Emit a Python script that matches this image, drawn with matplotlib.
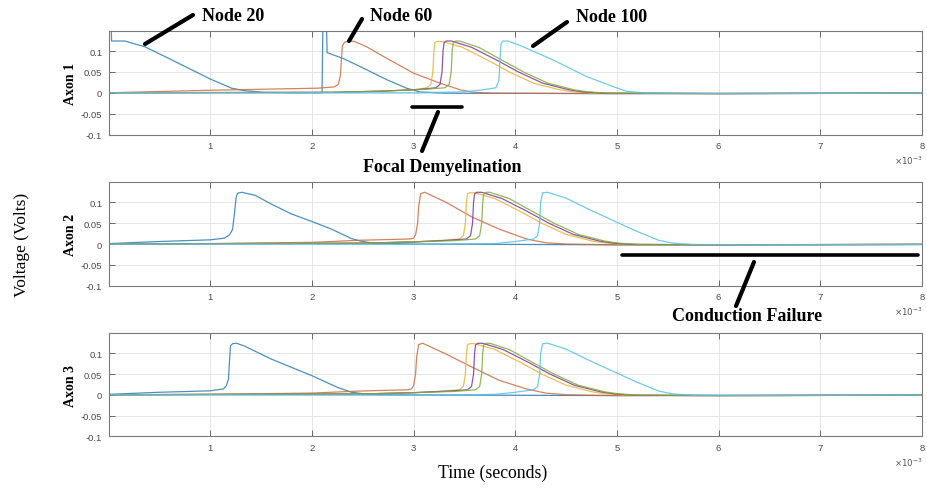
import matplotlib
matplotlib.use("Agg")
import matplotlib.pyplot as plt
from matplotlib.lines import Line2D

# ---------------- data (time in ms, voltage in V) ----------------
x_ticks = [1, 2, 3, 4, 5, 6, 7, 8]
y_ticks = [-0.1, -0.05, 0, 0.05, 0.1]
y_tick_labels = ["-0.1", "-0.05", "0", "0.05", "0.1"]
axon_labels = ["Axon 1", "Axon 2", "Axon 3"]

# Axon 1
a1_blue_t = [0, 0.008, 0.025, 0.03, 0.16, 0.36, 0.62, 1.0, 1.21, 1.34, 1.53, 1.8, 2.10, 2.11, 2.14, 2.15,
             2.31, 2.54, 2.74, 2.93, 3.06, 3.3, 5.0, 8.0]
a1_blue_v = [0, 0.2, 0.2, 0.124, 0.124, 0.110, 0.079, 0.033, 0.011, 0.005, 0.001, 0.0, 0.0, 0.2, 0.2, 0.096,
             0.082, 0.055, 0.031, 0.011, 0.002, -0.001, -0.002, -0.001]
a1_orange_t = [0, 1.0, 2.06, 2.22, 2.26, 2.28, 2.29, 2.30, 2.32, 2.36, 2.42, 2.54, 2.74, 3.0, 3.26, 3.46, 3.59,
               3.8, 5.0, 8.0]
a1_orange_v = [0, 0.006, 0.011, 0.014, 0.02, 0.04, 0.08, 0.112, 0.121, 0.124, 0.123, 0.110, 0.082, 0.047, 0.023,
               0.007, 0.001, -0.001, -0.002, -0.001]
a1_yellow_t = [0, 2.2, 2.7, 3.0, 3.13, 3.17, 3.19, 3.20, 3.21, 3.23, 3.28, 3.48, 3.73, 3.94, 4.18, 4.44, 4.58,
               4.78, 6.0, 8.0]
a1_yellow_v = [0, 0.001, 0.004, 0.007, 0.012, 0.02, 0.05, 0.10, 0.120, 0.123, 0.123, 0.109, 0.078, 0.050, 0.023,
               0.007, 0.002, -0.001, -0.002, -0.001]
a1_purple_t = [0, 2.2, 2.7, 3.05, 3.22, 3.26, 3.28, 3.29, 3.30, 3.32, 3.37, 3.57, 3.82, 4.03, 4.27, 4.53, 4.67,
               4.87, 6.0, 8.0]
a1_purple_v = [0, 0.001, 0.004, 0.008, 0.012, 0.02, 0.05, 0.10, 0.120, 0.124, 0.124, 0.109, 0.078, 0.050, 0.023,
               0.007, 0.002, -0.001, -0.002, -0.001]
a1_green_t = [0, 2.2, 2.7, 3.1, 3.31, 3.35, 3.37, 3.38, 3.39, 3.41, 3.45, 3.64, 3.87, 4.08, 4.32, 4.58, 4.72,
              4.92, 6.0, 8.0]
a1_green_v = [0, 0.001, 0.004, 0.008, 0.012, 0.02, 0.05, 0.10, 0.120, 0.124, 0.124, 0.109, 0.078, 0.050, 0.023,
              0.007, 0.002, -0.001, -0.002, -0.001]
a1_lblue_t = [0, 3.0, 3.47, 3.65, 3.81, 3.84, 3.85, 3.86, 3.88, 3.93, 4.04, 4.37, 4.70, 4.96, 5.09, 5.25, 6.0, 8.0]
a1_lblue_v = [0, 0.0, 0.002, 0.006, 0.012, 0.03, 0.08, 0.118, 0.124, 0.124, 0.114, 0.079, 0.039, 0.015, 0.004,
              0.0, -0.002, -0.001]

# Axon 2
a2_blue_t = [0, 0.5, 1.0, 1.14, 1.19, 1.22, 1.24, 1.255, 1.27, 1.31, 1.44, 1.60, 1.80, 2.0, 2.19, 2.39, 2.48,
             2.6, 3.0, 5.0, 8.0]
a2_blue_v = [0.001, 0.006, 0.010, 0.014, 0.022, 0.035, 0.076, 0.112, 0.122, 0.124, 0.117, 0.096, 0.072, 0.054,
             0.036, 0.013, 0.007, 0.002, 0.0, -0.002, -0.001]
a2_orange_t = [0, 1.0, 2.0, 2.47, 2.96, 3.0, 3.02, 3.04, 3.05, 3.07, 3.11, 3.32, 3.58, 3.84, 4.11, 4.3, 4.5,
               5.0, 8.0]
a2_orange_v = [0, 0.001, 0.004, 0.009, 0.012, 0.014, 0.022, 0.05, 0.09, 0.121, 0.124, 0.100, 0.064, 0.036, 0.012,
               0.003, 0.0, -0.002, -0.001]
a2_yellow_t = [0, 2.5, 3.0, 3.3, 3.45, 3.49, 3.51, 3.52, 3.53, 3.55, 3.60, 3.80, 4.05, 4.26, 4.50, 4.76, 4.90,
               5.10, 6.0, 8.0]
a2_yellow_v = [0, 0.002, 0.005, 0.009, 0.012, 0.02, 0.05, 0.10, 0.120, 0.123, 0.123, 0.109, 0.078, 0.050, 0.023,
               0.007, 0.002, -0.001, -0.002, -0.001]
a2_purple_t = [0, 2.5, 3.0, 3.35, 3.52, 3.56, 3.58, 3.59, 3.60, 3.62, 3.67, 3.87, 4.12, 4.33, 4.57, 4.83, 4.97,
               5.17, 6.0, 8.0]
a2_purple_v = [0, 0.002, 0.005, 0.009, 0.012, 0.02, 0.05, 0.10, 0.120, 0.124, 0.124, 0.109, 0.078, 0.050, 0.023,
               0.007, 0.002, -0.001, -0.002, -0.001]
a2_green_t = [0, 2.5, 3.0, 3.4, 3.61, 3.65, 3.67, 3.68, 3.69, 3.71, 3.75, 3.94, 4.17, 4.38, 4.62, 4.88, 5.02,
              5.22, 6.0, 8.0]
a2_green_v = [0, 0.002, 0.005, 0.008, 0.012, 0.02, 0.05, 0.10, 0.120, 0.124, 0.124, 0.109, 0.078, 0.050, 0.023,
              0.007, 0.002, -0.001, -0.002, -0.001]
a2_lblue_t = [0, 3.0, 3.8, 4.0, 4.18, 4.22, 4.24, 4.25, 4.27, 4.32, 4.50, 4.76, 5.02, 5.20, 5.41, 5.55, 5.75,
              6.5, 8.0]
a2_lblue_v = [0, -0.001, 0.001, 0.006, 0.012, 0.02, 0.05, 0.10, 0.123, 0.124, 0.110, 0.079, 0.050, 0.030, 0.009,
              0.002, -0.001, -0.002, -0.001]

# Axon 3
a3_blue_t = [0, 0.5, 1.0, 1.13, 1.16, 1.18, 1.19, 1.20, 1.22, 1.26, 1.34, 1.60, 2.0, 2.25, 2.39, 2.52, 2.7,
             5.0, 8.0]
a3_blue_v = [0.001, 0.006, 0.0095, 0.014, 0.022, 0.038, 0.08, 0.118, 0.123, 0.124, 0.117, 0.086, 0.046, 0.018,
             0.006, 0.002, 0.0, -0.002, -0.001]
a3_orange_t = [0, 1.0, 2.0, 2.47, 2.94, 2.98, 3.0, 3.02, 3.03, 3.05, 3.09, 3.32, 3.58, 3.84, 4.11, 4.3, 4.5,
               5.0, 8.0]
a3_orange_v = [0, 0.001, 0.004, 0.009, 0.012, 0.014, 0.022, 0.05, 0.09, 0.121, 0.124, 0.098, 0.066, 0.035, 0.014,
               0.004, 0.0, -0.002, -0.001]
a3_yellow_t = [0, 2.5, 3.0, 3.3, 3.45, 3.49, 3.51, 3.52, 3.53, 3.55, 3.60, 3.80, 4.05, 4.26, 4.50, 4.76, 4.90,
               5.10, 6.0, 8.0]
a3_yellow_v = [0, 0.002, 0.005, 0.009, 0.012, 0.02, 0.05, 0.10, 0.120, 0.123, 0.123, 0.109, 0.078, 0.050, 0.023,
               0.007, 0.002, -0.001, -0.002, -0.001]
a3_purple_t = [0, 2.5, 3.0, 3.35, 3.53, 3.57, 3.59, 3.60, 3.61, 3.63, 3.68, 3.88, 4.13, 4.34, 4.58, 4.84, 4.98,
               5.18, 6.0, 8.0]
a3_purple_v = [0, 0.002, 0.005, 0.009, 0.012, 0.02, 0.05, 0.10, 0.120, 0.124, 0.124, 0.109, 0.078, 0.050, 0.023,
               0.007, 0.002, -0.001, -0.002, -0.001]
a3_green_t = [0, 2.5, 3.0, 3.4, 3.61, 3.65, 3.67, 3.68, 3.69, 3.71, 3.75, 3.94, 4.17, 4.38, 4.62, 4.88, 5.02,
              5.22, 6.0, 8.0]
a3_green_v = [0, 0.002, 0.005, 0.008, 0.012, 0.02, 0.05, 0.10, 0.120, 0.124, 0.124, 0.109, 0.078, 0.050, 0.023,
              0.007, 0.002, -0.001, -0.002, -0.001]
a3_lblue_t = [0, 3.0, 3.8, 4.0, 4.18, 4.22, 4.24, 4.25, 4.27, 4.32, 4.50, 4.76, 5.02, 5.20, 5.41, 5.55, 5.75,
              6.5, 8.0]
a3_lblue_v = [0, -0.001, 0.001, 0.006, 0.012, 0.02, 0.05, 0.10, 0.123, 0.124, 0.110, 0.079, 0.050, 0.030, 0.009,
              0.002, -0.001, -0.002, -0.001]

# ---------------- styling ----------------
C_BLUE, C_ORANGE, C_YELLOW = "#2f7db3", "#c86e45", "#e6b43a"
C_PURPLE, C_GREEN, C_LBLUE = "#7e3a8e", "#7cad3c", "#58c0ec"

axon_traces = [
    [(a1_blue_t, a1_blue_v, C_BLUE), (a1_orange_t, a1_orange_v, C_ORANGE), (a1_yellow_t, a1_yellow_v, C_YELLOW),
     (a1_purple_t, a1_purple_v, C_PURPLE), (a1_green_t, a1_green_v, C_GREEN), (a1_lblue_t, a1_lblue_v, C_LBLUE)],
    [(a2_blue_t, a2_blue_v, C_BLUE), (a2_orange_t, a2_orange_v, C_ORANGE), (a2_yellow_t, a2_yellow_v, C_YELLOW),
     (a2_purple_t, a2_purple_v, C_PURPLE), (a2_green_t, a2_green_v, C_GREEN), (a2_lblue_t, a2_lblue_v, C_LBLUE)],
    [(a3_blue_t, a3_blue_v, C_BLUE), (a3_orange_t, a3_orange_v, C_ORANGE), (a3_yellow_t, a3_yellow_v, C_YELLOW),
     (a3_purple_t, a3_purple_v, C_PURPLE), (a3_green_t, a3_green_v, C_GREEN), (a3_lblue_t, a3_lblue_v, C_LBLUE)],
]

W, H = 927, 489
fig = plt.figure(figsize=(W / 100, H / 100), dpi=100)


def fx(p):
    return p / W


def fy(p):
    return 1 - p / H


LEFT, RIGHT = 108.5, 922
panels = [(32, 135.5), (183.3, 286.7), (334.3, 437.3)]
SERIF = "Liberation Serif"
SANS = "Liberation Sans"

for i, (top, bot) in enumerate(panels):
    ax = fig.add_axes([fx(LEFT), fy(bot), (RIGHT - LEFT) / W, (bot - top) / H])
    for t, v, c in axon_traces[i]:
        ax.plot(t, v, color=c, lw=0.9, alpha=0.85)
    ax.set_xlim(0, 8)
    ax.set_ylim(-0.1, 0.148)
    ax.set_xticks(x_ticks)
    ax.set_xticklabels([str(x) for x in x_ticks], fontfamily=SANS, fontsize=6.8)
    ax.set_yticks(y_ticks)
    ax.set_yticklabels(y_tick_labels, fontfamily=SANS, fontsize=6.8)
    ax.tick_params(direction="in", top=True, right=True, length=4, width=0.6,
                   color="#555555", labelcolor="#4a4a4a", pad=4.5)
    ax.grid(True, color="#e2e2e2", lw=0.6)
    ax.set_axisbelow(True)
    for s in ax.spines.values():
        s.set_color("#7a7a7a")
        s.set_linewidth(0.8)
    fig.text(fx(70), fy((top + bot) / 2), axon_labels[i], rotation=90, ha="center", va="center",
             fontfamily=SERIF, fontweight="bold", fontsize=10)
    fig.text(fx(923), fy(bot + 25.5), r"$\times10^{-3}$", fontsize=6.2, color="#555555",
             ha="right", va="center")

# axis titles
fig.text(fx(22), fy(245), "Voltage (Volts)", rotation=90, ha="center", va="center",
         fontfamily=SERIF, fontsize=12.5)
fig.text(fx(438), fy(478), "Time (seconds)", ha="left", va="baseline", fontfamily=SERIF, fontsize=12.8)

# annotations
ann_texts = [("Node 20", 202, 21), ("Node 60", 370, 21), ("Node 100", 576, 22),
             ("Focal Demyelination", 363, 172), ("Conduction Failure", 672, 321)]
for txt, px, py in ann_texts:
    fig.text(fx(px), fy(py), txt, ha="left", va="baseline", fontfamily=SERIF,
             fontweight="bold", fontsize=13)

ann_lines = [((145, 45), (193, 16), 3.0), ((349, 42), (362, 20), 3.0), ((533, 47), (567, 23), 3.0),
             ((412, 108), (462, 108), 2.6), ((438, 113), (422, 152), 3.0),
             ((622, 256), (918, 256), 2.6), ((754, 263), (736, 307), 3.0)]
for (x1, y1), (x2, y2), lw in ann_lines:
    fig.add_artist(Line2D([fx(x1), fx(x2)], [fy(y1), fy(y2)], transform=fig.transFigure,
                          color="black", lw=lw, solid_capstyle="round"))

fig.savefig("out.png", dpi=100)
